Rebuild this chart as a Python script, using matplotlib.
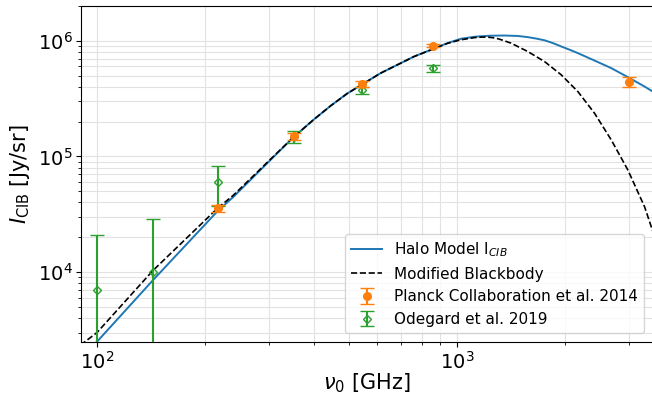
import numpy as np
import matplotlib
matplotlib.use('Agg')
import matplotlib.pyplot as plt

# halo model curve
halo_nu = [95, 100, 143, 217, 239, 323, 351, 400, 446, 496, 614, 760, 942, 1026, 1125,
           1234, 1355, 1478, 1574, 1660, 1751, 1848, 1949, 2060, 2168, 2411, 2685,
           2986, 3323, 3600]
halo_I = [2.15e3, 2.5e3, 8.5e3, 3.4e4, 4.45e4, 1.13e5, 1.46e5, 2.08e5, 2.74e5, 3.5e5,
          5.25e5, 7.3e5, 9.55e5, 1.04e6, 1.085e6, 1.105e6, 1.11e6, 1.10e6, 1.075e6,
          1.045e6, 1.01e6, 9.55e5, 8.93e5, 8.35e5, 7.82e5, 6.75e5, 5.80e5, 4.85e5,
          4.02e5, 3.45e5]

# modified blackbody curve
mbb_nu = [86, 100, 143, 217, 239, 323, 351, 400, 446, 496, 614, 760, 942, 1026, 1120,
          1170, 1218, 1265, 1310, 1413, 1574, 1751, 1949, 2168, 2411, 2685, 2986,
          3323, 3600]
mbb_I = [2.1e3, 3.0e3, 1.03e4, 3.6e4, 4.6e4, 1.14e5, 1.46e5, 2.08e5, 2.74e5, 3.5e5,
         5.25e5, 7.3e5, 9.5e5, 1.02e6, 1.065e6, 1.076e6, 1.075e6, 1.06e6, 1.035e6,
         9.55e5, 8.07e5, 6.62e5, 5.08e5, 3.64e5, 2.37e5, 1.39e5, 7.64e4, 3.67e4,
         1.75e4]

# Planck Collaboration et al. 2014
planck_nu = [217, 353, 545, 857, 3000]
planck_I = [3.55e4, 1.49e5, 4.25e5, 9.05e5, 4.4e5]
planck_err = [2.5e3, 1.0e4, 2.5e4, 3.0e4, 4.5e4]

# Odegard et al. 2019
odeg_nu = [100, 143, 217, 353, 545, 857]
odeg_I = [7.0e3, 1.0e4, 6.0e4, 1.48e5, 3.74e5, 5.78e5]
odeg_lo = [6.999e3, 9.999e3, 2.3e4, 1.75e4, 2.8e4, 4.2e4]
odeg_hi = [1.4e4, 1.9e4, 2.3e4, 1.75e4, 2.8e4, 4.2e4]

fig = plt.figure(figsize=(6.52, 3.96), dpi=100)
ax = fig.add_axes([0.124, 0.136, 0.878, 0.849])

ax.plot(halo_nu, halo_I, color='C0', lw=1.4, label='Halo Model I$_{CIB}$')
ax.plot(mbb_nu, mbb_I, 'k--', lw=1.2, label='Modified Blackbody')
ax.errorbar(planck_nu, planck_I, yerr=planck_err, fmt='o', color='C1', ms=5.5,
            capsize=5, zorder=4, label='Planck Collaboration et al. 2014')
ax.errorbar(odeg_nu, odeg_I, yerr=[odeg_lo, odeg_hi], fmt='D', color='C2', ms=4,
            mfc='none', capsize=5, zorder=3, label='Odegard et al. 2019')

ax.set_xscale('log')
ax.set_yscale('log')
ax.set_xlim(90.2, 3514)
ax.set_ylim(2480, 2.0e6)
ax.grid(which='both', color='#e2e2e2', lw=0.8)
ax.set_axisbelow(True)
ax.tick_params(which='major', labelsize=14, pad=2.5)
ax.set_xlabel(r'$\nu_0$ [GHz]', fontsize=15, labelpad=-1)
ax.set_ylabel(r'$I_{\rm CIB}$ [Jy/sr]', fontsize=15)
ax.legend(loc='lower right', fontsize=11, borderaxespad=0.6)

fig.savefig('out.png', dpi=100)
